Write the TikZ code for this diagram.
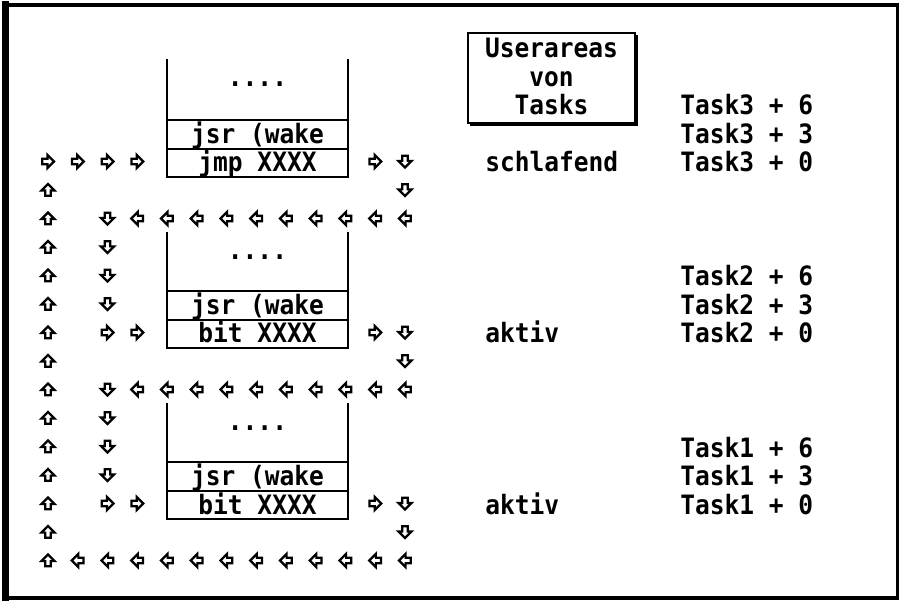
\documentclass[tikz,border=0pt]{standalone}
\usepackage{fontspec}
\newfontfamily\atari[FakeStretch=0.92]{DejaVu Sans Mono}
\begin{document}
\begin{tikzpicture}[x=0.75pt,y=-0.75pt,
  txt/.style={font=\atari\bfseries\fontsize{20}{22}\selectfont, inner sep=0pt, text=black},
  boxline/.style={line width=1.5pt, line cap=rect},
  arrowline/.style={line width=1.65pt, line join=miter},
  pics/garrow/.style={code={
    \draw[arrowline, rotate=#1] (-5.8,-2.8) -- (-0.6,-2.8) -- (-0.6,-6.6) -- (6,0) -- (-0.6,6.6) -- (-0.6,2.8) -- (-5.8,2.8) -- cycle;}},
]
\useasboundingbox (0,0) rectangle (900,602);
\fill[white] (0,0) rectangle (900,602);

% outer frame
\draw[line width=5.25pt] (5.5,1.5) -- (5.5,600.5);
\draw[line width=3pt] (2,5) -- (898,5);
\draw[line width=2.25pt] (897.5,3) -- (897.5,599.5);
\draw[line width=3pt] (2,597.5) -- (899,597.5);

% title box
\draw[line width=1.8pt] (468,33) rectangle (635,123);
\draw[line width=2.6pt] (636.5,35) -- (636.5,124.2) -- (470,124.2);
\node[txt, anchor=base] (t1) at (551.5,58) {Userareas};
\node[txt, anchor=base] (t2) at (551.5,86.5) {von};
\node[txt, anchor=base] (t3) at (551.5,115) {Tasks};

% Task labels
\node[txt, anchor=base west] (a36) at (680,115) {Task3 + 6};
\node[txt, anchor=base west] (a33) at (680,143.5) {Task3 + 3};
\node[txt, anchor=base west] (a30) at (680,172) {Task3 + 0};
\node[txt, anchor=base west] (s3) at (485,172) {schlafend};
\node[txt, anchor=base west] (a26) at (680,286) {Task2 + 6};
\node[txt, anchor=base west] (a23) at (680,314.5) {Task2 + 3};
\node[txt, anchor=base west] (a20) at (680,343) {Task2 + 0};
\node[txt, anchor=base west] (s2) at (485,343) {aktiv};
\node[txt, anchor=base west] (a16) at (680,457) {Task1 + 6};
\node[txt, anchor=base west] (a13) at (680,485.5) {Task1 + 3};
\node[txt, anchor=base west] (a10) at (680,514) {Task1 + 0};
\node[txt, anchor=base west] (s1) at (485,514) {aktiv};

% user area boxes
\foreach \T/\R/\ins/\k in {60/163/jmp XXXX/3, 233/334/bit XXXX/2, 404/505/bit XXXX/1}{
  \draw[boxline] (167,\T) -- (167,\R+14.25) -- (348,\R+14.25) -- (348,\T);
  \draw[boxline] (167,\R-14.25) -- (348,\R-14.25);
  \draw[boxline] (167,\R-42.75) -- (348,\R-42.75);
  \node[txt, anchor=base] (dots\k) at (257.5,\T+27) {....};
  \node[txt, anchor=base] (jsr\k) at (257.5,\R-19.5) {jsr (wake};
  \node[txt, anchor=base] (ins\k) at (257.5,\R+9) {\ins};
}

% arrows: columns c = 48 + 29.75 k, rows r = 162 + 28.5 k
\newcommand\putarrow[3]{\pic at ({48+29.75*#1},{161.5+28.5*#2}) {garrow=#3};}
% row 0
\foreach \c in {0,1,2,3} {\putarrow{\c}{0}{0}}
\putarrow{11}{0}{0}
\putarrow{12}{0}{-90}
% left column ups
\foreach \r in {1,...,14} {\putarrow{0}{\r}{90}}
% right column downs
\foreach \r in {1,7,13} {\putarrow{12}{\r}{-90}}
% left-arrow rows
\foreach \r in {2,8} {
  \putarrow{2}{\r}{-90}
  \foreach \c in {3,...,12} {\putarrow{\c}{\r}{180}}
}
\foreach \r in {3,4,5,9,10,11} {\putarrow{2}{\r}{-90}}
\foreach \r in {6,12} {
  \putarrow{2}{\r}{0}
  \putarrow{3}{\r}{0}
  \putarrow{11}{\r}{0}
  \putarrow{12}{\r}{-90}
}
% bottom row
\foreach \c in {1,...,12} {\putarrow{\c}{14}{180}}
\end{tikzpicture}
\end{document}
